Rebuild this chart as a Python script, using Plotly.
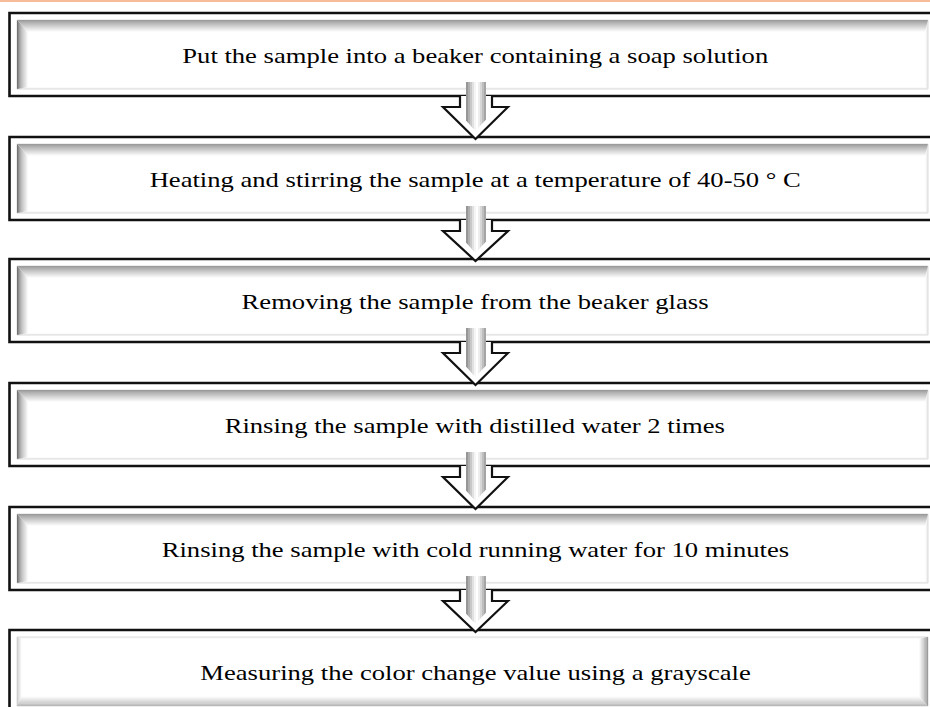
import plotly.graph_objects as go

# ---- content ----
steps = [
    "Put the sample into a beaker containing a soap solution",
    "Heating and stirring the sample at a temperature of 40-50 \u00b0 C",
    "Removing the sample from the beaker glass",
    "Rinsing the sample with distilled water 2 times",
    "Rinsing the sample with cold running water for 10 minutes",
    "Measuring the color change value using a grayscale",
]

# ---- layout constants (pixels) ----
W, H = 930, 707
box_tops = [13, 137, 259, 383, 507, 630]
BOX_H = 83
OX0, OX1 = 9.5, 942
IX0, IX1 = 17, 928
INSET = 7
CX = 475.5
TEXT_STRETCH = 1.21

shapes = []


def mix(c, t):
    return "rgb(%d,%d,%d)" % tuple(round(v + (255 - v) * t) for v in c)


def poly(pts, fill, line=None, lw=0, close=True):
    d = "M " + " L ".join("%.2f,%.2f" % p for p in pts) + (" Z" if close else "")
    s = dict(type="path", path=d, xref="x", yref="y", layer="above")
    s["fillcolor"] = fill if fill else "rgba(0,0,0,0)"
    s["line"] = dict(color=line, width=lw) if line else dict(width=0)
    return s


# orange strip at the very top
shapes.append(dict(type="rect", x0=0, x1=W, y0=-1, y1=2, fillcolor="#f6bb98",
                   line=dict(width=0), layer="above"))


def bevel(x0, y0, x1, y1, spec, n=12):
    L, T, R, B = (spec[k][0] for k in ("l", "t", "r", "b"))

    def ring(i):
        f = i / n
        return (x0 + L * f, y0 + T * f, x1 - R * f, y1 - B * f)
    for i in range(n):
        a = ring(i)
        b = ring(i + 1)
        t = (i + 0.5) / n
        for side in ("l", "t", "r", "b"):
            w, col = spec[side]
            if w <= 0:
                continue
            c = mix(col, t ** 0.9)
            if side == "l":
                pts = [(a[0], a[1]), (b[0], b[1]), (b[0], b[3]), (a[0], a[3])]
            elif side == "t":
                pts = [(a[0], a[1]), (a[2], a[1]), (b[2], b[1]), (b[0], b[1])]
            elif side == "r":
                pts = [(a[2], a[1]), (a[2], a[3]), (b[2], b[3]), (b[2], b[1])]
            else:
                pts = [(a[0], a[3]), (a[2], a[3]), (b[2], b[3]), (b[0], b[3])]
            shapes.append(poly(pts, c))


for k, top in enumerate(box_tops):
    bot = top + BOX_H
    shapes.append(dict(type="rect", x0=OX0, x1=OX1, y0=top, y1=bot,
                       fillcolor="white", line=dict(color="#111111", width=2.6),
                       layer="above"))
    iy0, iy1 = top + INSET, bot - INSET
    if k < len(box_tops) - 1:
        spec = {"l": (11, (95, 95, 95)), "t": (12, (150, 150, 150)),
                "r": (3, (215, 215, 215)), "b": (2, (215, 215, 215))}
    else:
        spec = {"l": (5, (185, 185, 185)), "t": (2, (220, 220, 220)),
                "r": (9, (125, 125, 125)), "b": (10, (165, 165, 165))}
    shapes.append(dict(type="rect", x0=IX0, x1=IX1, y0=iy0, y1=iy1,
                       fillcolor="white", line=dict(color="#dcdcdc", width=1),
                       layer="above"))
    bevel(IX0, iy0, IX1, iy1, spec)

# arrows between boxes
shaft_cols = [(150, 150, 150), (175, 175, 175), (200, 200, 200), (225, 225, 225),
              (245, 245, 245), (255, 255, 255), (238, 238, 238), (215, 215, 215),
              (190, 190, 190), (165, 165, 165)]
for k in range(len(box_tops) - 1):
    B = box_tops[k] + BOX_H
    T = box_tops[k + 1]
    head_y = B + 11
    tip_y = T + 2
    outline = [(460, B), (460, head_y), (443, head_y), (CX, tip_y),
               (508, head_y), (492, head_y), (492, B)]
    shapes.append(poly(outline, "white"))
    shapes.append(poly(outline, None, line="#111111", lw=2.2, close=False))
    sx0, sw = 466, 2.0
    s_tip = tip_y - 8
    for i, c in enumerate(shaft_cols):
        xa = sx0 + i * sw
        xb = xa + sw
        ya = s_tip - abs(xa - CX) * 1.1
        yb = s_tip - abs(xb - CX) * 1.1
        pts = [(xa, B - 14), (xb, B - 14), (xb, yb), (xa, ya)]
        shapes.append(poly(pts, "rgb(%d,%d,%d)" % c))

annotations = []
for k, (top, txt) in enumerate(zip(box_tops, steps)):
    annotations.append(dict(x=475, y=top + BOX_H / 2 + 1, text=txt, showarrow=False,
                            xref="x", yref="y", xanchor="center", yanchor="middle",
                            font=dict(family="Liberation Serif", size=22, color="black")))

fig = go.Figure()
fig.add_trace(go.Scatter(x=[0, W], y=[0, H], mode="markers",
                         marker=dict(opacity=0), hoverinfo="skip", showlegend=False))
fig.update_layout(
    width=W, height=H, margin=dict(l=0, r=0, t=0, b=0),
    paper_bgcolor="white", plot_bgcolor="white",
    xaxis=dict(range=[0, W], visible=False, fixedrange=True),
    yaxis=dict(range=[H, 0], visible=False, fixedrange=True),
    shapes=shapes, annotations=annotations, showlegend=False,
)

post = """
document.body.style.margin='0';
document.body.style.padding='0';
document.documentElement.style.overflow='hidden';
var gd=document.getElementById('{plot_id}');
gd.querySelectorAll('text.annotation-text').forEach(function(el){
  var b=el.getBBox(); var cx=b.x+b.width/2;
  var t=el.getAttribute('transform')||'';
  el.setAttribute('transform', t+' translate('+cx+',0) scale(%s,1) translate('+(-cx)+',0)');
});
""" % TEXT_STRETCH

fig.write_html("out.html", post_script=post, config={"responsive": False, "displayModeBar": False})
